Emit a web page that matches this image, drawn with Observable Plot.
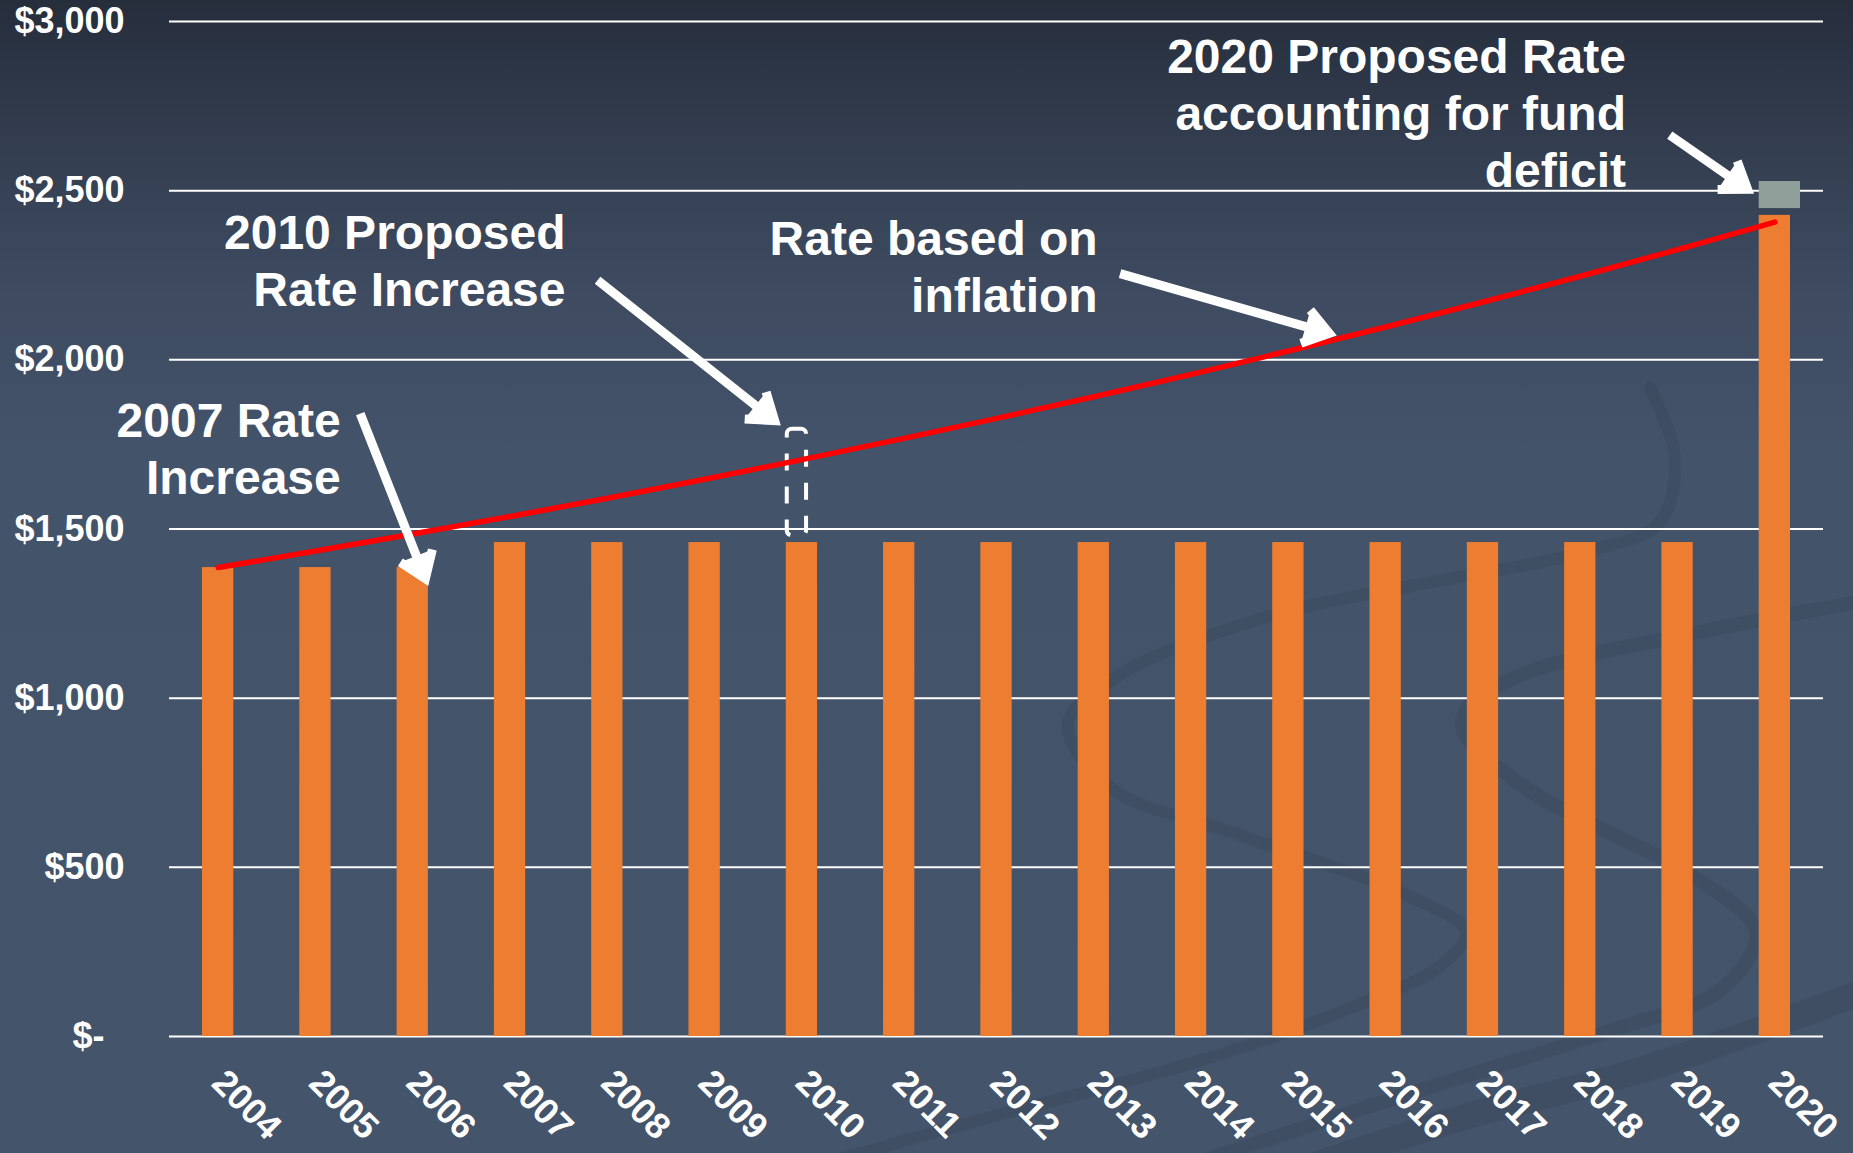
<!DOCTYPE html>
<html>
<head>
<meta charset="utf-8">
<script src="https://cdn.jsdelivr.net/npm/d3@7"></script>
<script src="https://cdn.jsdelivr.net/npm/@observablehq/plot@0.6"></script>
<style>
html, body { margin: 0; padding: 0; overflow: hidden; }
body { background: linear-gradient(to bottom, #262e3c 0px, #333e50 150px, #3e4b61 300px, #43536a 450px, #44546a 100%); width: 1853px; height: 1153px; position: relative; }
#decor { position: absolute; left: 0; top: 0; }
#chart { position: absolute; left: 0; top: 0; }
#chart svg { display: block; }
</style>
</head>
<body>
<svg id="decor" width="1853" height="1153"></svg>
<div id="chart"></div>
<script>
// ---- data ----
const years = [2004, 2005, 2006, 2007, 2008, 2009, 2010, 2011, 2012, 2013, 2014, 2015, 2016, 2017, 2018, 2019, 2020];
const rates = [1386, 1386, 1386, 1460, 1460, 1460, 1460, 1460, 1460, 1460, 1460, 1460, 1460, 1460, 1460, 1460, 2427];
const inflationRate = [1386, 1435, 1485, 1537, 1591, 1647, 1705, 1765, 1827, 1891, 1957, 2026, 2097, 2171, 2247, 2326, 2407];
const yTicks = [0, 500, 1000, 1500, 2000, 2500, 3000];
const proposed2010 = [{year: 2010, low: 1480, high: 1795}];
const deficit2020 = [{year: 2020, low: 2447, high: 2527}];
const noteText = ["2007 Rate\nIncrease", "2010 Proposed\nRate Increase", "Rate based on\ninflation", "2020 Proposed Rate\naccounting for fund\ndeficit"];
const noteX = [2005.26, 2007.57, 2013.04, 2018.47];
const noteY = [1741, 2297, 2279, 2734];
const arrowX1 = [2005.46, 2007.90, 2013.27, 2018.92];
const arrowY1 = [1841, 2235, 2255, 2664];
const arrowX2 = [2006.13, 2009.72, 2015.42, 2019.72];
const arrowY2 = [1353, 1820, 2078, 2504];

// ---- decorative background swirls (slide template, not data) ----
const swirlA = [[1650,387],[1675,459],[1659,523],[1584,552],[1411,586],[1273,615],[1123,673],[1068,724],[1111,788],[1238,834],[1411,897],[1466,932],[1440,966],[1353,1007],[1209,1058],[950,1128],[820,1165]];
const swirlB = [[1900,595],[1853,603],[1699,632],[1526,673],[1468,707],[1463,730],[1526,788],[1699,880],[1756,932],[1722,989],[1612,1030],[1411,1093],[1180,1168]];
const swirlC = [[1900,975],[1853,995],[1641,1070],[1468,1116],[1300,1170]];
const decor = d3.select("#decor");
const curve = d3.line().curve(d3.curveCatmullRom.alpha(0.5));
[[swirlA, 12], [swirlB, 14], [swirlC, 26]].forEach(([pts, w]) => {
  decor.append("path").attr("d", curve(pts)).attr("fill", "none")
    .attr("stroke", "#2c3646").attr("stroke-opacity", 0.18).attr("stroke-width", w).attr("stroke-linecap", "round");
});

const bars = years.map((year, i) => ({year, rate: rates[i], inflation: inflationRate[i]}));
const notes = noteText.map((text, i) => ({text, x: noteX[i], y: noteY[i]}));
const arrows = arrowX1.map((x1, i) => ({x1, y1: arrowY1[i], x2: arrowX2[i], y2: arrowY2[i]}));

const money = d => d === 0 ? "$-\u00a0\u00a0" : "$" + d3.format(",")(d);

const chart = Plot.plot({
  width: 1853,
  height: 1153,
  marginLeft: 169,
  marginRight: 30,
  marginTop: 21,
  marginBottom: 117,
  x: {domain: [2003.5, 2020.5]},
  y: {domain: [0, 3000]},
  style: {
    background: "transparent",
    color: "white",
    fontFamily: "'Liberation Sans', Arial, sans-serif",
    fontSize: "36px",
    overflow: "visible"
  },
  marks: [
    Plot.gridY(yTicks, {stroke: "white", strokeOpacity: 1, strokeWidth: 2}),
    Plot.axisY({ticks: yTicks, tickFormat: money, tickSize: 0, tickPadding: 45, fontSize: 36, fontWeight: "bold", fill: "white", label: null}),
    Plot.axisX({ticks: years, tickFormat: d => String(d), tickRotate: 45, tickSize: 0, tickPadding: 40, fontSize: 36, fontWeight: "bold", fill: "white", textAnchor: "start", label: null}),
    Plot.rectY(bars, {x1: d => d.year - 0.5, x2: d => d.year + 0.5, y: "rate", insetLeft: 33, insetRight: 33, fill: "#ed7d31"}),
    Plot.rect(proposed2010, {x1: d => d.year - 0.5, x2: d => d.year + 0.5, y1: "low", y2: "high", insetLeft: 34, insetRight: 44, fill: "none", stroke: "white", strokeWidth: 4, strokeDasharray: "17,16", rx: 5}),
    Plot.rect(deficit2020, {x1: d => d.year - 0.5, x2: d => d.year + 0.5, y1: "low", y2: "high", insetLeft: 33, insetRight: 23, fill: "#8fa09b"}),
    Plot.line(bars, {x: "year", y: "inflation", stroke: "#ff0000", strokeWidth: 5.5, strokeLinecap: "round"}),
    Plot.arrow(arrows, {x1: "x1", y1: "y1", x2: "x2", y2: "y2", stroke: "white", fill: "white", strokeWidth: 9, headLength: 5, headAngle: 70, strokeLinecap: "butt", strokeLinejoin: "miter", strokeMiterlimit: 4}),
    Plot.text(notes, {x: "x", y: "y", text: "text", textAnchor: "end", lineAnchor: "middle", lineHeight: 1.19, fontSize: 48, fontWeight: "bold", fill: "white"})
  ]
});
document.getElementById("chart").appendChild(chart);
</script>
</body>
</html>
